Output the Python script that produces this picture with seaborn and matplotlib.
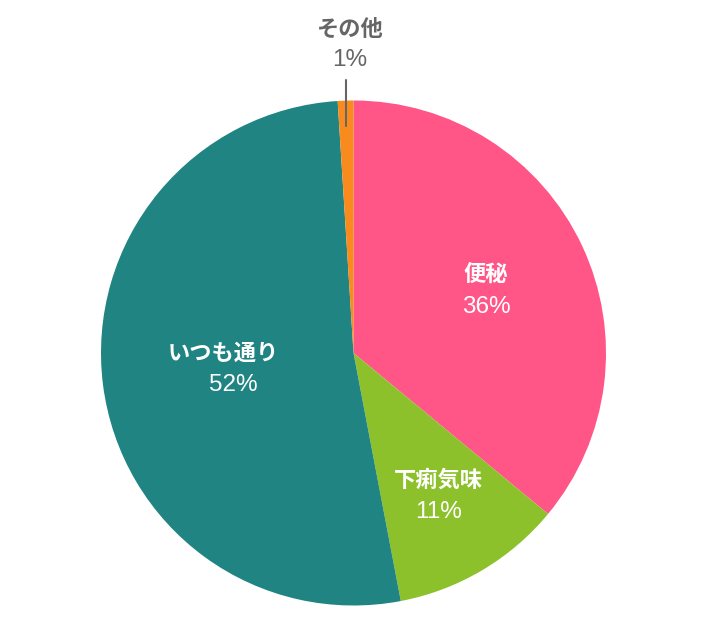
import numpy as np
import matplotlib.pyplot as plt
import seaborn as sns

# データ
labels = ['便秘', '下痢気味', 'いつも通り', 'その他']
values = [36, 11, 52, 1]
colors = ['#FF5587', '#8CC12B', '#1F8482', '#F98B1E']
label_dist = [0.58, 0.66, 0.50]  # 内側ラベルの位置（半径比）

sns.set_theme(style='white')
plt.rcParams['font.family'] = ['Noto Sans CJK JP', 'DejaVu Sans']
palette = sns.color_palette(colors)
num_font = ['Liberation Sans', 'Noto Sans CJK JP']

fig = plt.figure(figsize=(7.1, 6.3), dpi=100)
ax = fig.add_axes([0, 0, 1, 1])

cx, cy, r = 353.5, 277, 252.5
wedges, _ = ax.pie(values, colors=palette, startangle=90, counterclock=False,
                   center=(cx, cy), radius=r, wedgeprops=dict(linewidth=0))
ax.set_xlim(0, 710)
ax.set_ylim(0, 630)
ax.set_aspect('equal')
ax.axis('off')

for i, w in enumerate(wedges):
    mid = np.deg2rad((w.theta1 + w.theta2) / 2)
    pct = f'{values[i]}%'
    if i < 3:
        d = label_dist[i] * r
        x, y = cx + d * np.cos(mid), cy + d * np.sin(mid)
        shift = -5 if i == 2 else 0
        ax.text(x + shift, y + 16, labels[i], color='white', fontsize=16,
                fontweight='bold', ha='center', va='center')
        ax.text(x - shift, y - 16, pct, color='white', fontsize=17.5,
                family=num_font, ha='center', va='center')
    else:
        x0 = cx + 0.9 * r * np.cos(mid)
        ax.plot([x0, x0], [cy + 0.9 * r, cy + 1.08 * r], color='#666666', lw=1.5)
        ax.text(x0 + 3, cy + 1.28 * r, labels[i], color='#666666', fontsize=16,
                fontweight='bold', ha='center', va='center')
        ax.text(x0 + 3, cy + 1.16 * r, pct, color='#666666', fontsize=17.5,
                family=num_font, ha='center', va='center')

fig.savefig('out.png', dpi=100, facecolor='white')
